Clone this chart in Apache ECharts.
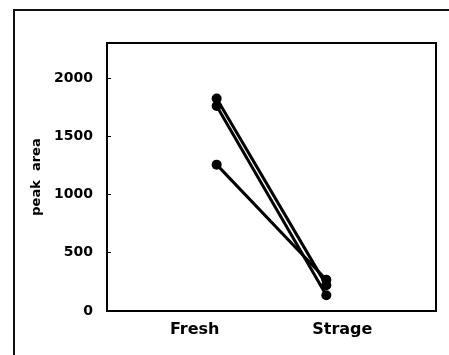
<!DOCTYPE html>
<html>
<head>
<meta charset="utf-8">
<script src="https://cdn.jsdelivr.net/npm/echarts@6/dist/echarts.min.js"></script>
<style>
  html, body { margin: 0; padding: 0; background: #fff; }
  #chart { width: 449px; height: 355px; }
</style>
</head>
<body>
<div id="chart"></div>
<script>
// categories on the x axis
const categories = ['Fresh', 'Strage']
// one line per sample: [Fresh, Strage]
const sample1 = [1823, 222]
const sample2 = [1759, 135]
const sample3 = [1256, 268]
const yTicks = [0, 500, 1000, 1500, 2000]

const chart = echarts.init(document.getElementById('chart'))

// pad the axis with empty slots so the points sit at 1/3 and 2/3 of the width
const axisData = ['', ...categories, '']
const toSeries = (vals) => [null, ...vals, null]

const lineSeries = [sample1, sample2, sample3].map((vals, i) => ({
  name: 'sample' + (i + 1),
  type: 'line',
  data: toSeries(vals),
  symbol: 'circle',
  symbolSize: 10,
  itemStyle: { color: '#000' },
  lineStyle: { color: '#000', width: 3 },
  emphasis: { disabled: true }
}))

const option = {
  animation: false,
  backgroundColor: '#fff',
  textStyle: { fontFamily: 'DejaVu Sans', fontWeight: 'bold' },
  graphic: [
    {
      type: 'rect',
      shape: { x: 14, y: 10, width: 470, height: 380 },
      style: { fill: 'none', stroke: '#111', lineWidth: 2 },
      silent: true
    }
  ],
  grid: {
    left: 107,
    top: 43,
    right: 13,
    bottom: 44,
    show: true,
    borderColor: '#000',
    borderWidth: 2
  },
  xAxis: {
    type: 'category',
    data: axisData,
    boundaryGap: false,
    axisLine: { show: false },
    axisTick: { show: false },
    axisLabel: {
      interval: 0,
      hideOverlap: false,
      margin: 11,
      color: '#000',
      fontSize: 16,
      fontWeight: 'bold',
      fontFamily: 'DejaVu Sans',
      formatter: (v) => {
        if (v === categories[0]) return '{l|' + v + '}'
        if (v === categories[1]) return '{r|' + v + '}'
        return ''
      },
      rich: {
        l: { padding: [0, 44, 0, 0], fontSize: 16, fontWeight: 'bold', fontFamily: 'DejaVu Sans', color: '#000' },
        r: { padding: [0, 0, 0, 32], fontSize: 16, fontWeight: 'bold', fontFamily: 'DejaVu Sans', color: '#000' }
      }
    }
  },
  yAxis: {
    type: 'value',
    min: 0,
    max: 2300,
    interval: 500,
    name: 'peak  area',
    nameLocation: 'middle',
    nameGap: 55,
    nameTextStyle: { fontSize: 13, fontWeight: 'bold', color: '#000', fontFamily: 'DejaVu Sans' },
    axisLine: { show: true, lineStyle: { color: '#000', width: 2 } },
    axisTick: { show: true, inside: true, length: 4, lineStyle: { color: '#000', width: 1 } },
    splitLine: { show: false },
    axisLabel: {
      margin: 14,
      color: '#000',
      fontSize: 14,
      fontWeight: 'bold',
      fontFamily: 'DejaVu Sans',
      showMaxLabel: false,
      formatter: (v) => (yTicks.includes(v) ? String(v) : '')
    }
  },
  series: lineSeries
}

chart.setOption(option)
</script>
</body>
</html>
